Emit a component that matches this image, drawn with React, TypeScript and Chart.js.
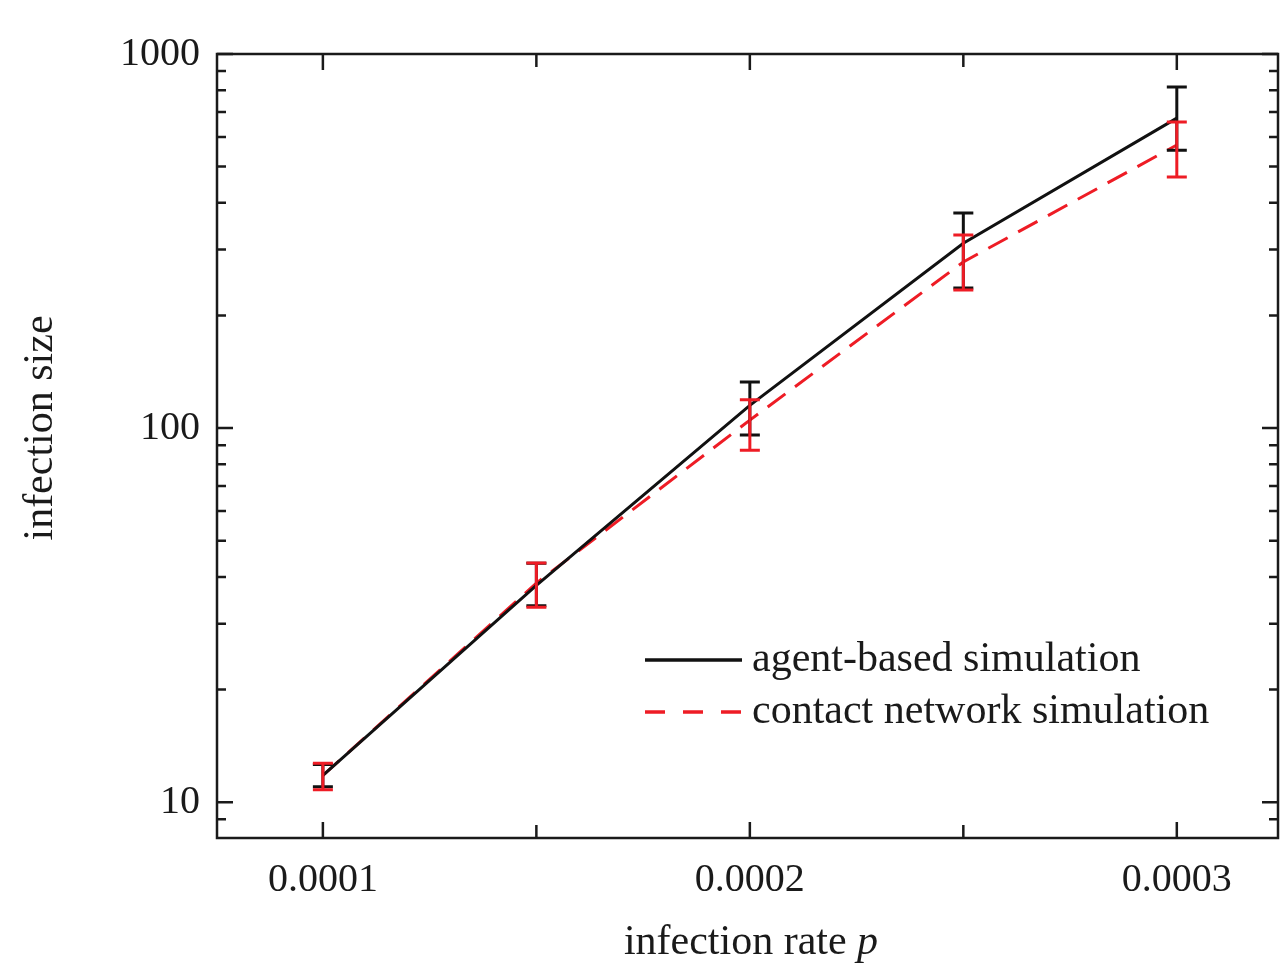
import React, { useEffect, useRef } from "react";
import { Chart, registerables } from "chart.js";

Chart.register(...registerables);

// Infection rate p (x) and infection size (y, log scale)
const infectionRates = [0.0001, 0.00015, 0.0002, 0.00025, 0.0003];

const agentBased = [11.8, 38, 115, 312, 674];
const agentBasedLow = [11.0, 33.5, 95.8, 237, 553];
const agentBasedHigh = [12.6, 43.5, 132.7, 376, 816];

const contactNetwork = [11.8, 38.5, 105, 278, 571];
const contactNetworkLow = [10.8, 33.2, 87.3, 234, 469];
const contactNetworkHigh = [12.7, 43.6, 119, 328, 658];

const xTickValues = [0.0001, 0.00015, 0.0002, 0.00025, 0.0003];
const xTickLabels = ["0.0001", "", "0.0002", "", "0.0003"];
const yTickValues = [10, 100, 1000];
const yTickLabels = ["10", "100", "1000"];

const seriesNames = ["agent-based simulation", "contact network simulation"];

const SERIF = '"Liberation Serif", "Times New Roman", serif';
const BLACK = "#111111";
const RED = "#ee1c25";

const errorBars = [
  { color: BLACK, low: agentBasedLow, high: agentBasedHigh },
  { color: RED, low: contactNetworkLow, high: contactNetworkHigh },
];

// Frame, inward ticks, error bars, axis titles and legend
const decorations = {
  id: "decorations",
  afterDatasetsDraw(chart: any) {
    const { ctx, chartArea: a, scales } = chart;
    const xs = scales.x;
    const ys = scales.y;
    ctx.save();

    // error bars
    ctx.lineWidth = 3;
    errorBars.forEach((eb) => {
      ctx.strokeStyle = eb.color;
      infectionRates.forEach((p, i) => {
        const x = xs.getPixelForValue(p);
        const yl = ys.getPixelForValue(eb.low[i]);
        const yh = ys.getPixelForValue(eb.high[i]);
        ctx.beginPath();
        ctx.moveTo(x, yl);
        ctx.lineTo(x, yh);
        ctx.moveTo(x - 10, yl);
        ctx.lineTo(x + 10, yl);
        ctx.moveTo(x - 10, yh);
        ctx.lineTo(x + 10, yh);
        ctx.stroke();
      });
    });

    // frame
    ctx.strokeStyle = "#1a1a1a";
    ctx.lineWidth = 2.5;
    ctx.strokeRect(a.left, a.top, a.right - a.left, a.bottom - a.top);

    // x ticks (top and bottom, pointing inward)
    xTickValues.forEach((v, i) => {
      const x = xs.getPixelForValue(v);
      const len = xTickLabels[i] ? 16 : 13;
      ctx.beginPath();
      ctx.moveTo(x, a.bottom);
      ctx.lineTo(x, a.bottom - len);
      ctx.moveTo(x, a.top);
      ctx.lineTo(x, a.top + len);
      ctx.stroke();
    });

    // y ticks: decades and minor log ticks, left and right
    const minV = ys.min;
    const maxV = ys.max;
    for (let d = 1; d <= 1000; d *= 10) {
      for (let m = 1; m <= 9; m++) {
        const v = d * m;
        if (v < minV || v > maxV) continue;
        const y = ys.getPixelForValue(v);
        const len = m === 1 ? 16 : 9;
        ctx.beginPath();
        ctx.moveTo(a.left, y);
        ctx.lineTo(a.left + len, y);
        ctx.moveTo(a.right, y);
        ctx.lineTo(a.right - len, y);
        ctx.stroke();
      }
    }

    // axis titles
    ctx.fillStyle = "#1a1a1a";
    ctx.font = `42px ${SERIF}`;
    ctx.textBaseline = "middle";
    ctx.save();
    ctx.translate(41, 428);
    ctx.rotate(-Math.PI / 2);
    ctx.textAlign = "center";
    ctx.fillText("infection size", 0, 0);
    ctx.restore();

    const base = "infection rate ";
    ctx.font = `42px ${SERIF}`;
    const w1 = ctx.measureText(base).width;
    ctx.font = `italic 42px ${SERIF}`;
    const w2 = ctx.measureText("p").width;
    const cx = 751;
    const startX = cx - (w1 + w2) / 2;
    ctx.textAlign = "left";
    ctx.font = `42px ${SERIF}`;
    ctx.fillText(base, startX, 943);
    ctx.font = `italic 42px ${SERIF}`;
    ctx.fillText("p", startX + w1, 943);

    // legend
    const legendRows = [
      { y: 660, ds: chart.data.datasets[0], dash: [] as number[] },
      { y: 712, ds: chart.data.datasets[1], dash: [20, 18] },
    ];
    legendRows.forEach((row, i) => {
      ctx.strokeStyle = row.ds.borderColor;
      ctx.lineWidth = 3.5;
      ctx.setLineDash(row.ds.borderDash ? row.dash : []);
      ctx.beginPath();
      ctx.moveTo(645, row.y);
      ctx.lineTo(742, row.y);
      ctx.stroke();
      ctx.setLineDash([]);
      ctx.fillStyle = "#1a1a1a";
      ctx.font = `42px ${SERIF}`;
      ctx.textAlign = "left";
      ctx.textBaseline = "middle";
      ctx.fillText(seriesNames[i], 752, row.y);
    });

    ctx.restore();
  },
};

export default function App() {
  const canvasRef = useRef<HTMLCanvasElement | null>(null);

  useEffect(() => {
    if (!canvasRef.current) return;
    const chart = new Chart(canvasRef.current, {
      type: "line",
      data: {
        datasets: [
          {
            label: seriesNames[0],
            data: infectionRates.map((p, i) => ({ x: p, y: agentBased[i] })),
            borderColor: BLACK,
            borderWidth: 3,
            pointRadius: 0,
            fill: false,
            tension: 0,
          },
          {
            label: seriesNames[1],
            data: infectionRates.map((p, i) => ({ x: p, y: contactNetwork[i] })),
            borderColor: RED,
            borderWidth: 3,
            borderDash: [22, 12],
            pointRadius: 0,
            fill: false,
            tension: 0,
          },
        ],
      },
      plugins: [decorations],
      options: {
        animation: false,
        responsive: false,
        devicePixelRatio: 1,
        layout: { padding: { top: 54, right: 2, left: 0, bottom: 0 } },
        plugins: {
          legend: { display: false },
          tooltip: { enabled: false },
        },
        scales: {
          x: {
            type: "linear",
            min: 0.0000752,
            max: 0.0003237,
            grid: { display: false, drawTicks: false },
            border: { display: false },
            afterBuildTicks: (scale: any) => {
              scale.ticks = xTickValues.map((v) => ({ value: v }));
            },
            afterFit: (scale: any) => {
              scale.height = 129;
            },
            ticks: {
              autoSkip: false,
              maxRotation: 0,
              padding: 18,
              color: "#1a1a1a",
              font: { family: SERIF, size: 40 },
              callback: (_v: any, i: number) => xTickLabels[i],
            },
          },
          y: {
            type: "logarithmic",
            min: 8.02,
            max: 1000,
            grid: { display: false, drawTicks: false },
            border: { display: false },
            afterBuildTicks: (scale: any) => {
              scale.ticks = yTickValues.map((v) => ({ value: v }));
            },
            afterFit: (scale: any) => {
              scale.width = 217;
            },
            ticks: {
              autoSkip: false,
              padding: 17,
              color: "#1a1a1a",
              font: { family: SERIF, size: 40 },
              callback: (_v: any, i: number) => yTickLabels[i],
            },
          },
        },
      },
    });
    return () => chart.destroy();
  }, []);

  return (
    <div style={{ position: "absolute", left: 0, top: 0, width: 1280, height: 967, background: "#fff" }}>
      <canvas ref={canvasRef} width={1280} height={967} />
    </div>
  );
}
